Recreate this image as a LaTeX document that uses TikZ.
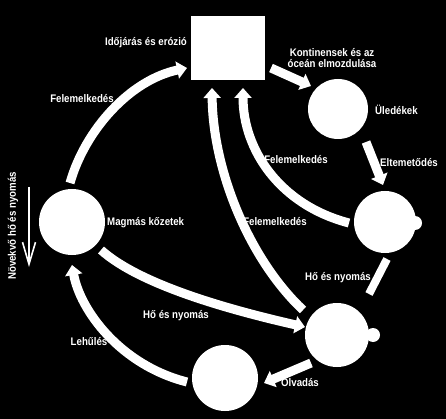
\documentclass[tikz,border=0pt]{standalone}
\usepackage{fontspec}
\newfontfamily\lbl{Liberation Sans}[FakeStretch=0.88]
\usetikzlibrary{arrows.meta}
\begin{document}
\begin{tikzpicture}[x=1pt,y=-1pt,
  lab/.style={text=white, font=\lbl\bfseries\fontsize{11}{11}\selectfont, inner sep=0pt},
  ball/.style={circle, fill=white, inner sep=0pt},
  bump/.style={circle, fill=white, inner sep=0pt, minimum size=14pt},
  box/.style={rectangle, fill=white, inner sep=0pt, minimum width=74pt, minimum height=64pt},
  flow/.style={draw=white, line width=9pt, -{Triangle[width=17pt,length=10pt]}},
  band/.style={draw=white, line width=8pt},
  thinarrow/.style={draw=white, line width=1.6pt, -{Straight Barb[length=22pt,width=13pt]}}]
\fill[black] (0,0) rectangle (446,419);
\useasboundingbox (0,0) rectangle (446,419);
% shapes
\node[box] (sq) at (228,48) {};
\node[ball, minimum size=60pt] (sed) at (338,109) {};
\node[ball, minimum size=62pt] (meta) at (385,222) {};
\node[bump] (metab) at (415,223) {};
\node[ball, minimum size=66pt] (mag) at (72,222) {};
\node[ball, minimum size=66pt] (bot) at (225,378) {};
\node[ball, minimum size=64pt] (lr) at (337,335) {};
\node[bump] (lrb) at (373,335) {};
% labels
\node[lab] (t1) at (146,43) {Időjárás és erózió};
\node[lab, align=center] (t2) at (332,58) {Kontinensek és az\\óceán elmozdulása};
\node[lab, anchor=west] (t3) at (375,110) {Üledékek};
\node[lab] (t4) at (409,163) {Eltemetődés};
\node[lab] (t5) at (296,160) {Felemelkedés};
\node[lab] (t6) at (275,222) {Felemelkedés};
\node[lab] (t7) at (82,99) {Felemelkedés};
\node[lab, anchor=west] (t8) at (107,223) {Magmás kőzetek};
\node[lab] (t9) at (176,316) {Hő és nyomás};
\node[lab] (t10) at (338,278) {Hő és nyomás};
\node[lab] (t11) at (89,342) {Lehűlés};
\node[lab] (t12) at (300,383) {Olvadás};
\node[lab, rotate=90] (t13) at (13,226) {Növekvő hő és nyomás};
% connector ends
\coordinate (a1s) at (271,68);  \coordinate (a1e) at (311,86);
\coordinate (a2s) at (366,142); \coordinate (a2e) at (383,185);
\coordinate (a3s) at (349,223); \coordinate (a3e) at (243,88);
\coordinate (a4s) at (303,310); \coordinate (a4e) at (212,88);
\coordinate (a5s) at (70,183);  \coordinate (a5e) at (187,68);
\coordinate (a6s) at (101,250); \coordinate (a6e) at (305,327);
\coordinate (a7s) at (311,363); \coordinate (a7e) at (264,383);
\coordinate (a8s) at (187,382); \coordinate (a8e) at (72,265);
\coordinate (a9s) at (387,259); \coordinate (a9e) at (369,294);
\coordinate (v1) at (29,187);   \coordinate (v2) at (29,267);
% connectors
\draw[flow] (a1s) -- (a1e);
\draw[flow] (a2s) -- (a2e);
\draw[flow] (a3s) .. controls (280,205) and (243,150) .. (a3e);
\draw[flow] (a4s) .. controls (250,260) and (213,172) .. (a4e);
\draw[flow] (a5s) .. controls (85,130) and (130,80) .. (a5e);
\draw[flow] (a6s) .. controls (140,285) and (230,310) .. (a6e);
\draw[flow] (a7s) -- (a7e);
\draw[flow] (a8s) .. controls (120,365) and (80,310) .. (a8e);
\draw[band] (a9s) -- (a9e);
\draw[thinarrow] (v1) -- (v2);
\end{tikzpicture}
\end{document}
